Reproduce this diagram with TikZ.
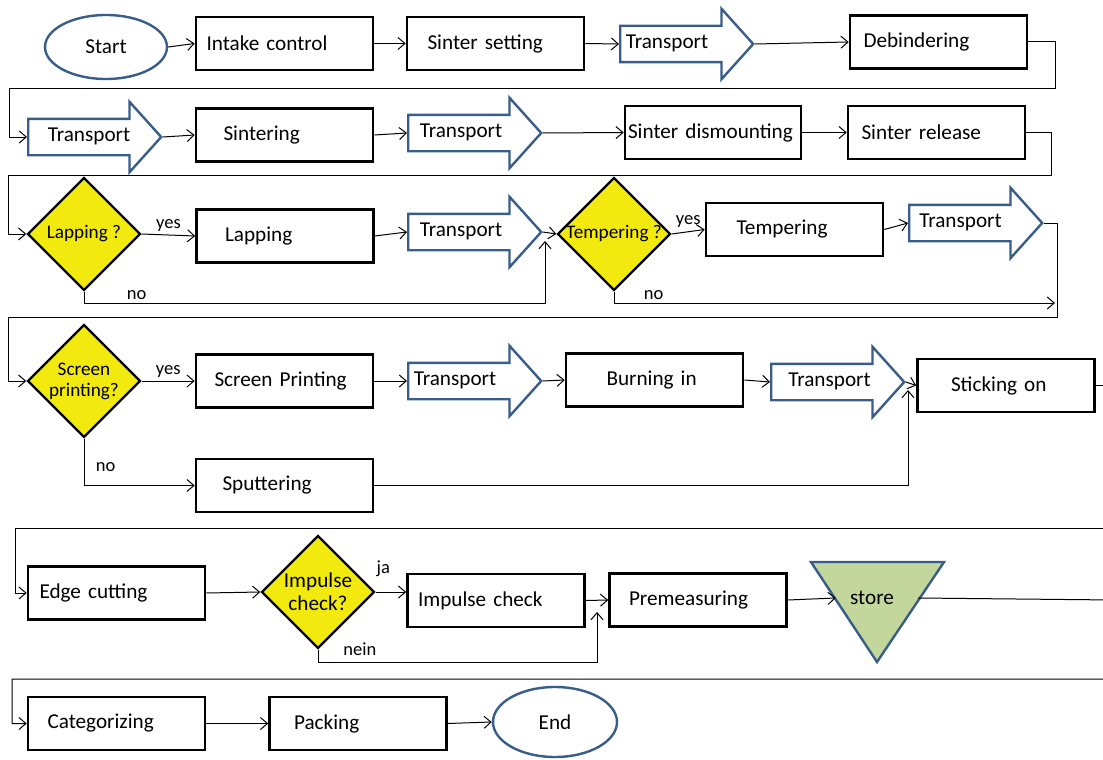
\documentclass[tikz,border=0pt]{standalone}
\usepackage{fontspec}
\setmainfont{Carlito}
\usetikzlibrary{arrows.meta,positioning,shapes.geometric,shapes.arrows}
\definecolor{flowBlue}{RGB}{56,93,138}
\definecolor{flowYellow}{RGB}{242,233,14}
\definecolor{flowGreen}{RGB}{195,214,155}

\begin{document}
\begin{tikzpicture}[
  x=1pt, y=-1pt,
  font=\fontsize{21.2}{24}\selectfont,
  box/.style={draw, line width=2.6pt, minimum height=53pt, text width=160pt,
              inner xsep=8.5pt, align=left},
  decision/.style={diamond, draw, line width=2.4pt, fill=flowYellow, aspect=1,
                   minimum width=113pt, minimum height=113pt, inner sep=0pt,
                   align=center, font=\fontsize{19.2}{21}\selectfont},
  terminal/.style={ellipse, draw=flowBlue, line width=2.4pt,
                   minimum width=122pt, minimum height=64pt},
  move/.style={single arrow, draw=flowBlue, line width=2.4pt, anchor=tail,
               single arrow head extend=17pt, single arrow tip angle=96,
               minimum height=133pt, text height=13pt, text depth=4pt,
               inner ysep=8.5pt, inner xsep=3pt},
  arrow/.style={-{Straight Barb[length=7pt,width=12pt]}, line width=1pt},
  tag/.style={font=\fontsize{18.5}{20}\selectfont}
]
\useasboundingbox (0,0) rectangle (1103,760);

\node[terminal] (start) at (106,47) {Start};
\node[box] (intake) at (284.5,43.5) {\hspace*{2pt}Intake control};
\node[box] (setting) at (495.5,43.5) {\hspace*{12pt}Sinter setting};
\node[move] (tr1) at (619,44) {\hspace*{-23pt}Transport};
\node[box] (debind) at (938.5,42) {\hspace*{5pt}Debindering};

\node[move] (tr2) at (27,137) {\hspace*{5pt}Transport};
\node[box] (sinter) at (284.5,135) {\hspace*{19pt}Sintering};
\node[move] (tr3) at (407,133) {\hspace*{-11pt}Transport};
\node[box, text width=170pt, inner xsep=3pt] (dism) at (713,132.5) {Sinter dismounting};
\node[box] (release) at (936.5,132.5) {\hspace*{5pt}Sinter release};

\node[decision] (lapQ) at (84,234) {Lapping ?};
\node[box] (lapping) at (285,236) {\hspace*{20pt}Lapping};
\node[move] (tr4) at (407,232) {\hspace*{-11pt}Transport};
\node[decision] (tempQ) at (614,234) {Tempering ?};
\node[box] (temper) at (794.5,229.5) {\hspace*{22pt}Tempering};
\node[move] (tr5) at (908,223) {\hspace*{-14pt}Transport};

\node[decision] (scrQ) at (84,381) {Screen\\printing?};
\node[box] (scrPrint) at (284.5,381) {\hspace*{10pt}Screen Printing};
\node[move] (tr6) at (407,381) {\hspace*{-23pt}Transport};
\node[box] (burn) at (654.5,380) {\hspace*{32pt}Burning in};
\node[move] (tr7) at (770,382) {Transport};
\node[box] (stick) at (1006,385.5) {\hspace*{25pt}Sticking on};
\node[box] (sputter) at (284.5,485.5) {\hspace*{18pt}Sputtering};

\node[box] (edge) at (116.5,593) {\hspace*{3pt}Edge cutting};
\node[decision, font=\fontsize{21.2}{23}\selectfont, inner sep=-4pt] (impQ) at (318,592) {Impulse\\check?};
\node[box] (impCheck) at (496,600.5) {\hspace*{2pt}Impulse check};
\node[box] (premeas) at (698,600) {\hspace*{11pt}Premeasuring};
\draw[draw=flowBlue, line width=2.4pt, fill=flowGreen] (811,562) -- (944,562) -- (877,662) -- cycle;
\node[minimum width=82pt, inner sep=0pt] (store) at (877,598) {\hspace*{-10pt}store};

\node[box] (categ) at (116.5,723.5) {\hspace*{11pt}Categorizing};
\node[box] (packing) at (358,723.5) {\hspace*{16pt}Packing};
\node[terminal, minimum width=124pt, minimum height=70pt] (end) at (555,722) {End};

\coordinate (lapNo) at (545,241);
\coordinate (tempNo) at (1055,303);
\coordinate (stickUp) at (908,390);
\coordinate (impNo) at (597,612);

\draw[arrow] (start.east) -- (intake.west);
\draw[arrow] (intake.east) -- (setting.west);
\draw[arrow] (setting.east) -- (tr1.tail);
\draw[arrow] (tr1.tip) -- (debind.west);
\draw[arrow] (debind.east) -- ++(27,0) |- (9,88) |- (tr2.tail);

\draw[arrow] (tr2.tip) -- (sinter.west);
\draw[arrow] (sinter.east) -- (tr3.tail);
\draw[arrow] (tr3.tip) -- (dism.west);
\draw[arrow] (dism.east) -- (release.west);
\draw[arrow] (release.east) -- ++(25,0) |- (8,175) |- (lapQ.west);

\draw[arrow] (lapQ.east) -- node[tag, above] {yes} (lapping.west);
\draw[arrow] (lapping.east) -- (tr4.tail);
\draw[arrow] (tr4.tip) -- (tempQ.west);
\draw[arrow] (lapQ.south) |- node[tag, above, pos=0.557] {no} (545,303) -- (lapNo);
\draw[arrow] (tempQ.east) -- node[tag, above] {yes} (temper.west);
\draw[arrow] (temper.east) -- (tr5.tail);
\draw[arrow] (tempQ.south) |- node[tag, above, pos=0.545] {no} (tempNo);
\draw[arrow] (tr5.tip) -- ++(14,0) |- (8,317) |- (scrQ.west);

\draw[arrow] (scrQ.east) -- node[tag, above] {yes} (scrPrint.west);
\draw[arrow] (scrPrint.east) -- (tr6.tail);
\draw[arrow] (tr6.tip) -- (burn.west);
\draw[arrow] (burn.east) -- (tr7.tail);
\draw[arrow] (tr7.tip) -- (stick.west);
\draw[arrow] (scrQ.south) |- node[tag, pos=0.3, right=8pt] {no} (sputter.west);
\draw[arrow] (sputter.east) -| (stickUp);
\draw[arrow] (stick.east) -- (1115,385.5) |- (15,528) |- (edge.west);

\draw[arrow] (edge.east) -- (impQ.west);
\draw[arrow] (impQ.east) -- node[tag, pos=0.25, above=12pt] {ja} (impQ.east -| impCheck.west);
\draw[arrow] (impCheck.east) -- (premeas.west);
\draw[arrow] (impQ.south) |- node[tag, above=3pt, pos=0.575] {nein} (597,662) -- (impNo);
\draw[arrow] (premeas.east) -- (store.west);
\draw[arrow] (store.east) -- (1115,600) |- (12,679) |- (categ.west);

\draw[arrow] (categ.east) -- (packing.west);
\draw[arrow] (packing.east) -- (end.west);
\end{tikzpicture}
\end{document}
